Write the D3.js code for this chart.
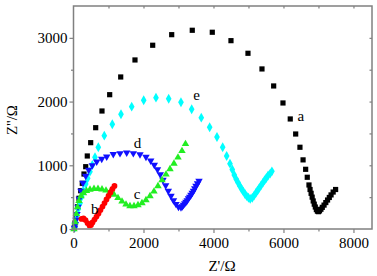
<!DOCTYPE html>
<html>
<head>
<meta charset="utf-8">
<script src="https://cdn.jsdelivr.net/npm/d3@7"></script>
<style>
  body { margin: 0; background: #fff; }
</style>
</head>
<body>
<svg width="377" height="276"></svg>
<script>
// Nyquist data, [Z', Z''] in ohm
const seriesA = [
  [23, 16], [43, 94], [80, 220], [120, 350], [157, 482], [206, 601], [251, 717], [300, 863],
  [349, 978], [394, 1146], [491, 1355], [634, 1590], [814, 1852], [1034, 2108], [1349, 2386],
  [1757, 2653], [2263, 2884], [2806, 3050], [3394, 3119], [3966, 3088], [4500, 2956],
  [4986, 2758], [5386, 2512], [5720, 2245], [5986, 1978], [6194, 1727], [6349, 1491],
  [6471, 1283], [6560, 1085], [6634, 937], [6680, 812], [6729, 691], [6760, 620], [6790, 560],
  [6820, 500], [6850, 440], [6880, 390], [6910, 345], [6940, 305], [6970, 280], [7000, 272],
  [7030, 285], [7070, 310], [7110, 340], [7160, 375], [7210, 415], [7260, 455], [7310, 495],
  [7360, 535], [7420, 580], [7490, 620]
];
const seriesB = [
  [229, 157], [286, 165], [343, 141], [400, 94], [457, 55], [500, 63], [543, 102], [600, 149],
  [657, 196], [714, 243], [771, 298], [829, 353], [886, 408], [943, 463], [1000, 518],
  [1057, 573], [1114, 628], [1171, 675]
];
const seriesC = [
  [14, 0], [43, 110], [80, 236], [114, 345], [157, 440], [214, 518], [286, 565], [371, 600],
  [471, 620], [586, 630], [700, 630], [814, 622], [929, 605], [1043, 580], [1157, 540],
  [1271, 487], [1386, 432], [1500, 385], [1614, 361], [1729, 361], [1843, 377], [1957, 408],
  [2071, 455], [2186, 518], [2300, 589], [2414, 675], [2529, 769], [2643, 856], [2757, 942],
  [2871, 1028], [2986, 1123], [3100, 1225], [3200, 1335]
];
const seriesD = [
  [29, 16], [51, 78], [71, 141], [100, 235], [129, 345], [166, 471], [214, 597], [271, 722],
  [349, 832], [434, 926], [537, 1000], [663, 1057], [806, 1099], [949, 1135], [1137, 1173],
  [1329, 1188], [1520, 1198], [1709, 1188], [1900, 1170], [2071, 1130], [2206, 1072],
  [2309, 1005], [2400, 934], [2480, 856], [2557, 769], [2634, 683], [2709, 597], [2786, 518],
  [2857, 447], [2929, 392], [3000, 345], [3071, 338], [3110, 355], [3143, 377], [3180, 400],
  [3214, 424], [3250, 450], [3286, 479], [3320, 505], [3357, 534], [3393, 565], [3429, 597],
  [3465, 636], [3500, 675], [3545, 715], [3586, 754]
];
const seriesE = [
  [43, 27], [63, 105], [100, 209], [137, 314], [186, 403], [234, 507], [280, 601], [349, 706],
  [406, 796], [471, 900], [537, 1005], [614, 1126], [709, 1283], [880, 1465], [1109, 1644],
  [1357, 1801], [1663, 1920], [2006, 2020], [2357, 2061], [2720, 2045], [3071, 1989],
  [3377, 1879], [3651, 1747], [3891, 1597], [4100, 1444], [4263, 1283], [4377, 1146],
  [4471, 1025], [4537, 934], [4594, 848], [4651, 780], [4700, 730], [4750, 680], [4800, 630],
  [4850, 590], [4900, 550], [4950, 515], [5000, 490], [5050, 472], [5110, 490], [5160, 525],
  [5210, 565], [5260, 605], [5310, 645], [5360, 685], [5410, 725], [5460, 765], [5510, 800],
  [5560, 840], [5620, 870], [5670, 905]
];

const xTicks = [0, 2000, 4000, 6000, 8000];
const yTicks = [0, 1000, 2000, 3000];

const width = 377, height = 276;
const margin = { top: 6, right: 5, bottom: 47, left: 73.5 };
const serif = "'Liberation Serif', 'Times New Roman', 'DejaVu Serif', serif";

const x = d3.scaleLinear().domain([0, 8530]).range([margin.left, width - margin.right]);
const y = d3.scaleLinear().domain([0, 3500]).range([height - margin.bottom, margin.top]);

const svg = d3.select("svg");

// series: data, colour, symbol, rotation, label, label position (data units)
const series = [
  { data: seriesA, color: "#000000", sym: d3.symbolSquare, size: 27, rot: 0, label: "a", at: [6400, 1690] },
  { data: seriesE, color: "#00ffff", sym: d3.symbolDiamond, size: 28, rot: 0, label: "e", at: [3420, 2020] },
  { data: seriesD, color: "#1010ff", sym: d3.symbolTriangle, size: 24, rot: 180, label: "d", at: [1720, 1270] },
  { data: seriesC, color: "#22ee22", sym: d3.symbolTriangle, size: 24, rot: 0, label: "c", at: [1720, 470] },
  { data: seriesB, color: "#ff0000", sym: d3.symbolCircle, size: 26, rot: 0, label: "b", at: [500, 230] }
];

series.forEach(s => {
  svg.append("g")
    .selectAll("path")
    .data(s.data)
    .enter().append("path")
    .attr("d", d3.symbol().type(s.sym).size(s.size))
    .attr("transform", d => `translate(${x(d[0])},${y(d[1])}) rotate(${s.rot})`)
    .attr("fill", s.color);
});

series.forEach(s => {
  svg.append("text")
    .attr("x", x(s.at[0]))
    .attr("y", y(s.at[1]))
    .attr("font-family", serif)
    .attr("font-size", 15)
    .attr("fill", "#000")
    .text(s.label);
});

// frame
const axisColor = "#808080";
svg.append("rect")
  .attr("x", x(0)).attr("y", y(3500))
  .attr("width", x(8530) - x(0)).attr("height", y(0) - y(3500))
  .attr("fill", "none").attr("stroke", axisColor).attr("stroke-width", 1.5);

const xAxis = svg.append("g")
  .attr("transform", `translate(0,${y(0)})`)
  .call(d3.axisBottom(x).tickValues(xTicks).tickSize(4).tickFormat(d3.format("d")));
svg.append("g")
  .attr("transform", `translate(0,${y(0)})`)
  .call(d3.axisBottom(x).tickValues([1000, 3000, 5000, 7000]).tickSize(2.5).tickFormat(""));
const yAxis = svg.append("g")
  .attr("transform", `translate(${x(0)},0)`)
  .call(d3.axisLeft(y).tickValues(yTicks).tickSize(4).tickFormat(d3.format("d")));
svg.append("g")
  .attr("transform", `translate(${x(0)},0)`)
  .call(d3.axisLeft(y).tickValues([500, 1500, 2500]).tickSize(2.5).tickFormat(""));
svg.append("g")
  .attr("transform", `translate(0,${y(3500)})`)
  .call(d3.axisBottom(x).tickValues(d3.range(1000, 8001, 1000)).tickSize(2.5).tickFormat(""));
svg.append("g")
  .attr("transform", `translate(${x(8530)},0)`)
  .call(d3.axisLeft(y).tickValues(d3.range(500, 3001, 500)).tickSize(2.5).tickFormat(""));

svg.selectAll(".domain").remove();
svg.selectAll(".tick line").attr("stroke", axisColor).attr("stroke-width", 1.2);
xAxis.attr("font-family", serif);
yAxis.attr("font-family", serif);
xAxis.selectAll("text").attr("font-size", 15).attr("fill", "#000").attr("dy", "0.8em");
yAxis.selectAll("text").attr("font-size", 15).attr("fill", "#000").attr("x", -6);

svg.append("text")
  .attr("x", 222).attr("y", 271)
  .attr("text-anchor", "middle").attr("font-size", 15).attr("font-family", serif)
  .text("Z'/Ω");
svg.append("text")
  .attr("transform", "translate(17,120) rotate(-90)")
  .attr("text-anchor", "middle").attr("font-size", 15).attr("font-family", serif)
  .text("Z''/Ω");
</script>
</body>
</html>
